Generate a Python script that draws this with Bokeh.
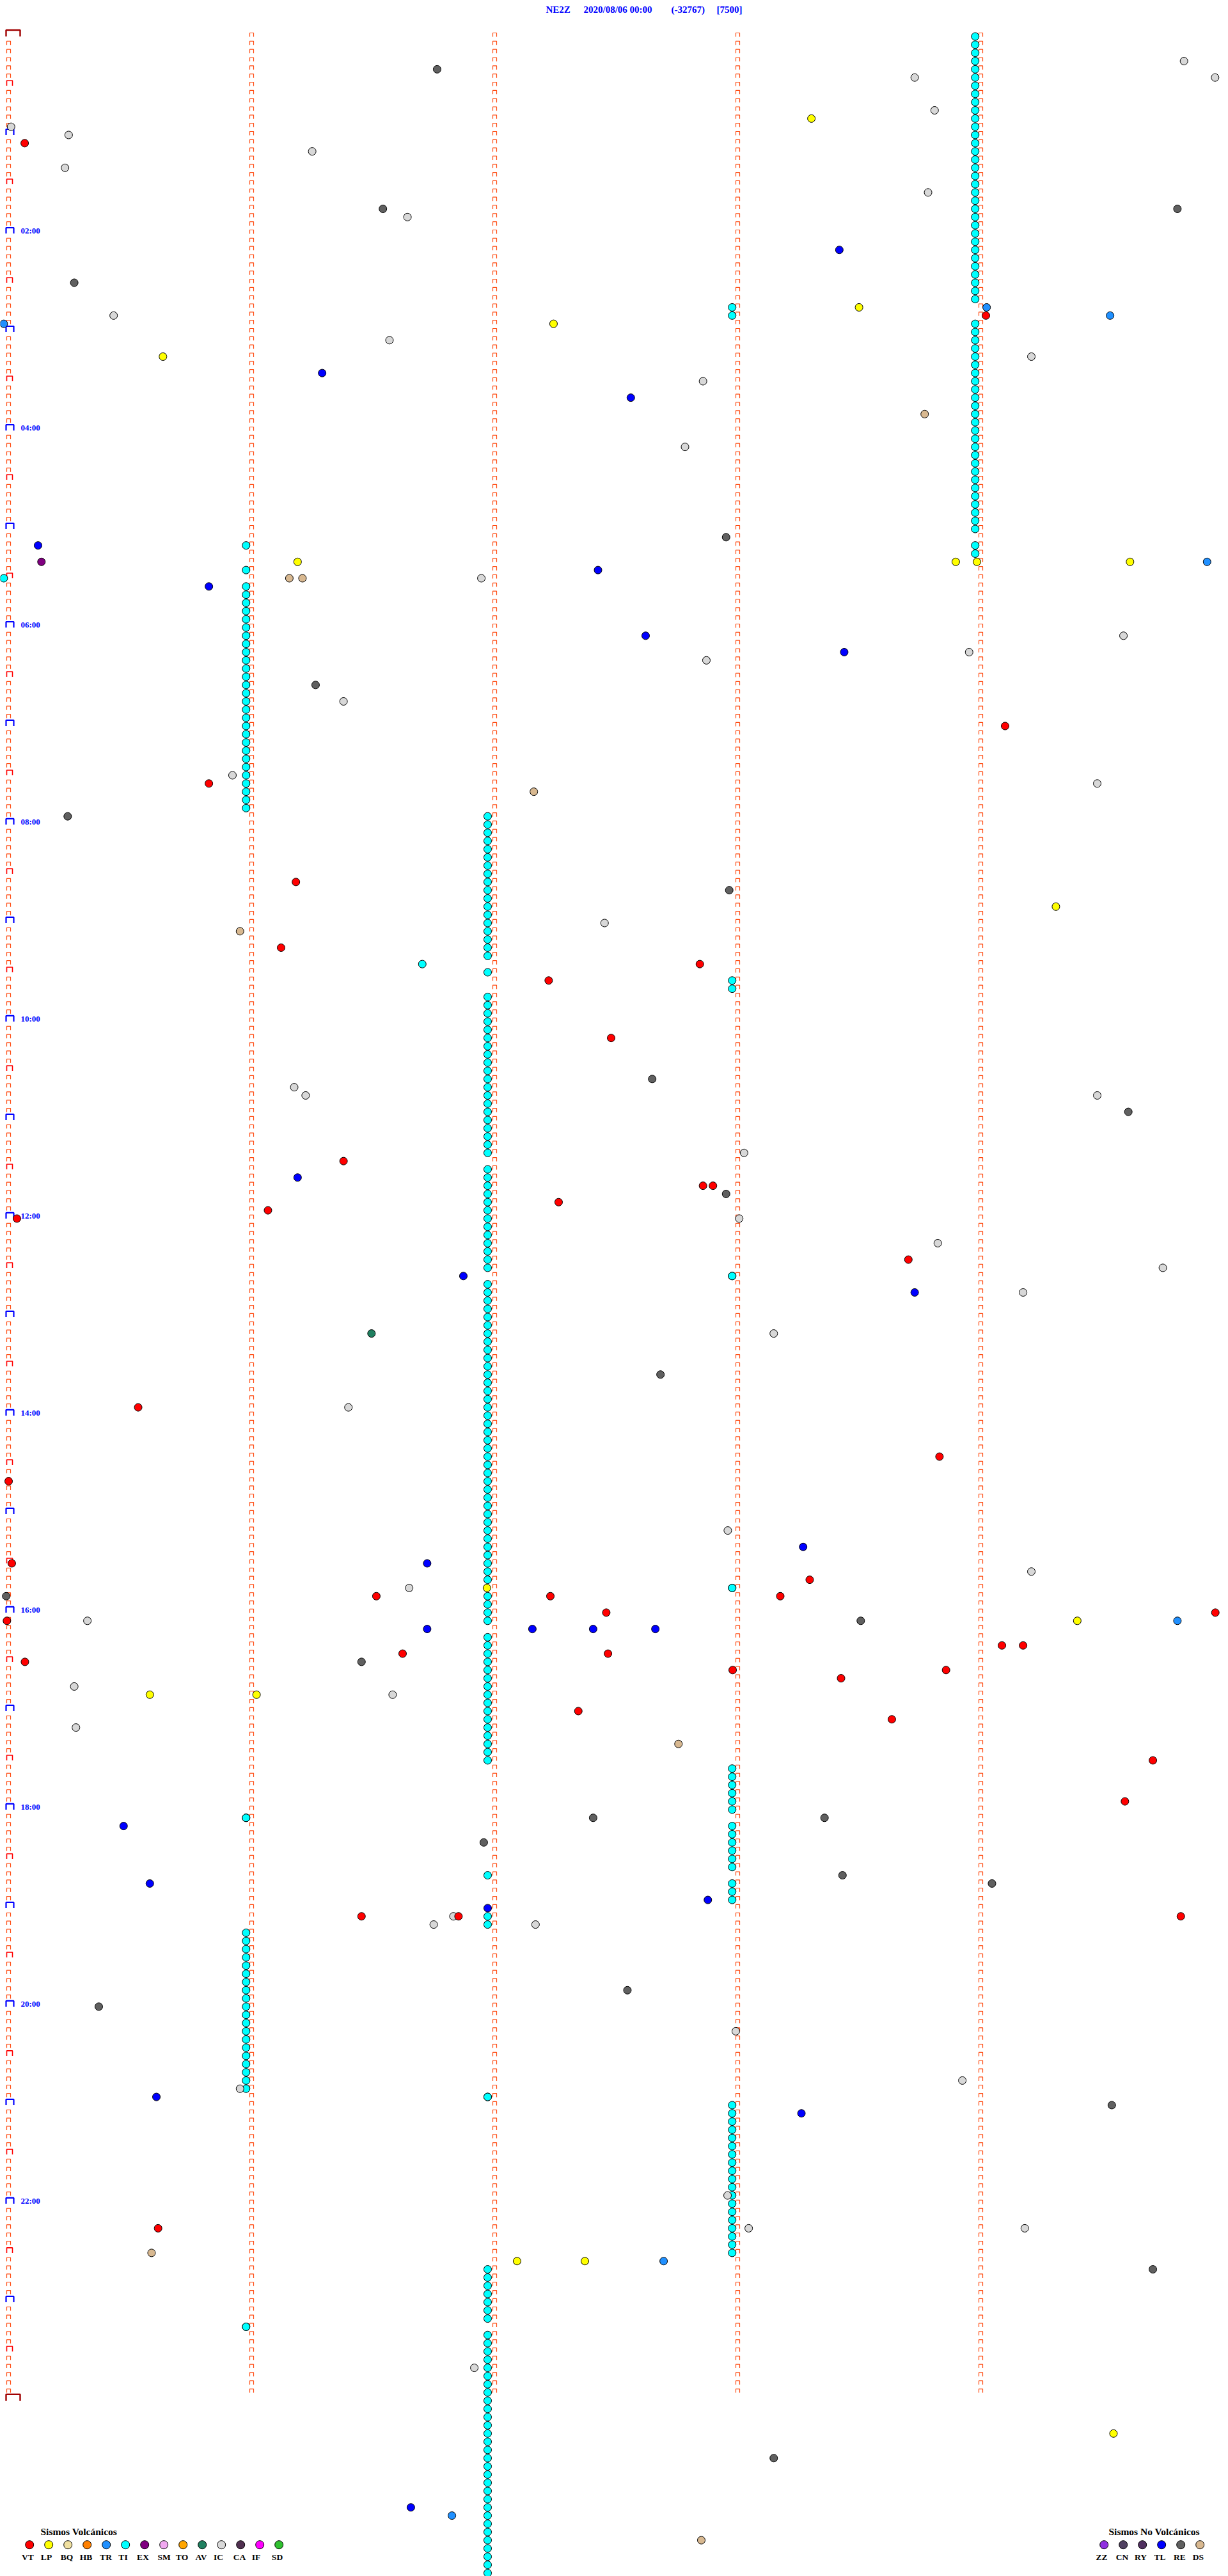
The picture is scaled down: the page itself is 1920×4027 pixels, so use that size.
import numpy as np
from bokeh.plotting import figure
from bokeh.models import Range1d, ColumnDataSource
from bokeh.core.properties import value
from bokeh.embed import file_html
from bokeh.resources import INLINE

# ---------------- data ----------------
station = "NE2Z"
start_label = "2020/08/06 00:00"
clip_label = "(-32767)"
scale_label = "[7500]"

volc_codes = ["VT", "LP", "BQ", "HB", "TR", "TI", "EX", "SM", "TO", "AV", "IC", "CA", "IF", "SD"]
volc_colors = ["#FF0000", "#FFFF00", "#F0E0A0", "#FF8000", "#2090FF", "#00FFFF", "#800080",
               "#F0A8F0", "#FFA500", "#208060", "#D8D8D8", "#503050", "#FF00FF", "#30C030"]
nonvolc_codes = ["ZZ", "CN", "RY", "TL", "RE", "DS"]
nonvolc_colors = ["#9030E0", "#504060", "#503060", "#0000FF", "#606060", "#D8B890"]

# each event: type, 5-minute line index, minutes into the line
ev_type = ["RE", "IC", "IC", "IC", "IC", "LP", "IC", "IC", "VT", "IC",
           "IC", "IC", "RE", "IC", "RE", "TL", "RE", "IC", "LP", "TR",
           "VT", "TR", "LP", "TR", "IC", "LP", "IC", "TL", "IC", "TL",
           "DS", "IC", "RE", "TL", "EX", "LP", "LP", "LP", "LP", "TR",
           "TI", "TL", "DS", "DS", "IC", "TL", "TL", "TL", "IC", "IC",
           "IC", "RE", "IC", "VT", "VT", "IC", "IC", "DS", "RE", "VT",
           "RE", "LP", "IC", "DS", "VT", "TI", "VT", "VT", "VT", "RE",
           "IC", "IC", "IC", "RE", "IC", "VT", "TL", "VT", "VT", "RE",
           "VT", "VT", "IC", "VT", "IC", "VT", "IC", "TL", "TI", "TL",
           "IC", "IC", "AV", "RE", "VT", "IC", "VT", "VT", "IC", "TL",
           "TL", "VT", "VT", "IC", "IC", "VT", "LP", "VT", "TI", "VT",
           "RE", "VT", "VT", "RE", "LP", "TR", "VT", "IC", "TL", "TL",
           "TL", "TL", "VT", "VT", "VT", "VT", "VT", "RE", "VT", "VT",
           "VT", "IC", "LP", "LP", "IC", "VT", "VT", "IC", "DS", "VT",
           "VT", "TI", "RE", "RE", "TL", "RE", "RE", "TL", "RE", "TL",
           "TL", "VT", "IC", "IC", "VT", "IC", "VT", "RE", "RE", "IC",
           "IC", "IC", "TI", "TL", "TL", "RE", "IC", "IC", "IC", "VT",
           "DS", "LP", "LP", "TR", "RE", "TI", "IC", "LP", "RE", "TL",
           "TR", "DS"]
ev_line = [4, 5, 3, 5, 9, 10, 11, 12, 13, 14,
           16, 19, 21, 22, 21, 26, 30, 34, 33, 33,
           34, 34, 35, 35, 37, 39, 39, 41, 42, 44,
           46, 50, 61, 62, 64, 64, 64, 64, 64, 64,
           66, 67, 66, 66, 66, 65, 73, 75, 73, 75,
           76, 79, 81, 84, 91, 90, 91, 92, 95, 103,
           104, 106, 108, 109, 111, 113, 113, 115, 122, 127,
           128, 129, 129, 131, 136, 137, 139, 140, 140, 141,
           142, 143, 144, 144, 147, 149, 150, 151, 151, 153,
           153, 158, 158, 163, 167, 167, 173, 176, 182, 184,
           186, 186, 188, 187, 189, 190, 189, 190, 189, 190,
           190, 192, 192, 193, 193, 193, 193, 193, 194, 194,
           194, 194, 197, 197, 196, 196, 198, 198, 199, 199,
           200, 201, 202, 202, 202, 204, 205, 206, 208, 210,
           215, 217, 217, 217, 218, 220, 224, 225, 225, 227,
           228, 229, 230, 229, 229, 230, 229, 238, 240, 243,
           249, 250, 251, 251, 253, 252, 263, 267, 267, 267,
           270, 271, 271, 271, 272, 279, 284, 292, 295, 301,
           302, 305]
ev_min = [1.763, 3.728, 4.836, 4.964, 3.810, 3.303, 0.010, 0.247, 0.066, 1.249,
          0.232, 3.783, 1.540, 1.641, 4.809, 3.418, 0.270, 0.432, 3.499, 4.024,
          4.021, 4.532, 2.242, -0.020, 1.567, 0.635, 4.208, 1.290, 2.857, 2.560,
          3.769, 2.783, 2.952, 0.121, 0.135, 1.189, 3.897, 3.984, 4.614, 4.931,
          -0.020, 0.824, 1.155, 1.209, 1.945, 2.425, 2.621, 3.438, 4.587, 3.952,
          2.871, 1.263, 1.378, 4.100, 0.824, 0.921, 4.479, 2.161, 0.243, 1.182,
          2.965, 4.309, 2.452, 0.952, 1.121, 1.702, 2.844, 2.222, 2.479, 2.648,
          1.175, 1.222, 4.479, 4.607, 3.026, 1.378, 1.189, 2.857, 2.898, 2.952,
          2.263, 1.067, 3.006, 0.034, 3.823, 3.702, 4.749, 1.871, 2.977, 3.728,
          4.174, 3.148, 1.493, 2.682, 0.533, 1.398, 3.830, 0.000, 2.959, 3.269,
          1.722, 0.013, 3.296, 4.208, 1.648, 1.513, 1.968, 2.229, 2.977, 3.175,
          -0.010, 2.459, 4.965, 3.506, 4.397, 4.809, -0.007, 0.324, 1.722, 2.155,
          2.405, 2.661, 1.621, 2.466, 4.087, 4.174, 0.067, 1.452, 2.979, 3.857,
          3.425, 0.270, 0.581, 1.020, 1.580, 2.344, 3.634, 0.277, 2.756, 4.708,
          4.593, 0.977, 2.405, 3.357, 0.473, 1.955, 3.431, 0.581, 4.046, 2.877,
          1.971, 1.452, 1.749, 1.830, 1.851, 2.168, 4.823, 2.546, 0.371, 2.992,
          3.924, 0.952, 1.971, 0.608, 3.262, 4.539, 2.958, 3.045, 4.181, 0.615,
          0.588, 2.092, 2.371, 2.695, 4.708, 0.977, 1.916, 4.546, 3.148, 1.655,
          1.824, 2.850]

# continuous TI (tremor) runs: first line, last line, minutes into the line
ti_runs = [(0, 32, 3.977), (35, 60, 3.977), (62, 63, 3.977),
           (33, 34, 2.977), (115, 116, 2.977), (151, 151, 2.977), (189, 189, 2.977),
           (211, 216, 2.977), (218, 223, 2.977), (225, 227, 2.977), (252, 270, 2.977),
           (62, 62, 0.977), (65, 65, 0.977), (67, 94, 0.977), (217, 217, 0.977),
           (231, 250, 0.977), (279, 279, 0.977),
           (95, 112, 1.971), (114, 114, 1.971), (117, 136, 1.971), (138, 150, 1.971),
           (152, 188, 1.971), (190, 193, 1.971), (195, 210, 1.971), (224, 224, 1.971),
           (229, 230, 1.971), (251, 251, 1.971), (272, 278, 1.971), (280, 309, 1.971)]

n_lines = 288          # 24 h of 5-minute lines
minute_ticks = [0, 1, 2, 3, 4]

# ---------------- geometry (page pixels of the original sheet) ----------------
PX_MIN = 380.0       # pixels per minute
X0 = 13.0            # x of minute 0
PX_LINE = 12.833     # pixels per 5-min line
Y0 = 56.5            # y of line 0


def dx(px):
    return (px - X0) / PX_MIN


def dy(py):
    return (py - Y0) / PX_LINE


def cx(m):
    return X0 + PX_MIN * m


def cy(r):
    return Y0 + PX_LINE * r


W, H = 1920, 4027
p = figure(width=W, height=H, x_range=Range1d(dx(0), dx(W)), y_range=Range1d(dy(H), dy(0)),
           output_backend="svg", toolbar_location=None, min_border=0,
           x_axis_location=None, y_axis_location=None)
p.grid.visible = False
p.outline_line_color = None
p.background_fill_color = "white"
p.border_fill_color = "white"


def bracket(xc_left, xc_right, ytop, ybot):
    return [dx(xc_left), dx(xc_left), dx(xc_right), dx(xc_right)], [dy(ybot), dy(ytop), dy(ytop), dy(ybot)]


# trace tick marks
small_xs, small_ys = [], []
red_xs, red_ys = [], []
blue_xs, blue_ys = [], []
dk_xs, dk_ys = [], []
for k in minute_ticks:
    xc = cx(k)
    for r in range(n_lines + 1):
        yc = cy(r)
        if k == 0:
            if r == 0 or r == n_lines:
                a, b = bracket(xc - 4, xc + 18, yc - 10, yc)
                dk_xs.append(a); dk_ys.append(b)
            elif r % 12 == 0:
                a, b = bracket(xc - 4, xc + 8, yc - 9, yc)
                blue_xs.append(a); blue_ys.append(b)
            elif r % 6 == 0:
                a, b = bracket(xc - 3, xc + 6, yc - 8, yc)
                red_xs.append(a); red_ys.append(b)
            else:
                a, b = bracket(xc - 3, xc + 3, yc - 5.5, yc + 0.5)
                small_xs.append(a); small_ys.append(b)
        else:
            if r >= n_lines:
                continue
            a, b = bracket(xc - 3, xc + 3, yc - 5.5, yc + 0.5)
            small_xs.append(a); small_ys.append(b)

p.multi_line(small_xs, small_ys, line_color="#FF4A10", line_width=1.2)
p.multi_line(red_xs, red_ys, line_color="#FF0000", line_width=1.6)
p.multi_line(blue_xs, blue_ys, line_color="#0000FF", line_width=2.2)
p.multi_line(dk_xs, dk_ys, line_color="#A00000", line_width=2.4)

# hour labels
hl_x, hl_y, hl_t = [], [], []
for h in range(2, 24, 2):
    hl_x.append(dx(32)); hl_y.append(dy(cy(h * 12) - 4.5)); hl_t.append("%02d:00" % h)
p.text(hl_x, hl_y, text=hl_t, text_font=value("Liberation Serif"), text_font_style="bold",
       text_font_size="13px", text_color="#0000FF", text_baseline="middle", text_align="left")

# title
tt_x = [dx(853), dx(912), dx(1049), dx(1120)]
tt_t = [station, start_label, clip_label, scale_label]
p.text(tt_x, [dy(14.5)] * 4, text=tt_t, text_font=value("Liberation Serif"), text_font_style="bold",
       text_font_size="15px", text_color="#0000FF", text_baseline="middle", text_align="left")

# events
color_map = dict(zip(volc_codes, volc_colors))
color_map.update(dict(zip(nonvolc_codes, nonvolc_colors)))

ti_x, ti_y = [], []
for first, last, m in ti_runs:
    for r in range(first, last + 1):
        ti_x.append(m); ti_y.append(r)
p.scatter(ti_x, ti_y, size=12, marker="circle", fill_color=color_map["TI"], line_color="black", line_width=1)

src = ColumnDataSource(dict(x=ev_min, y=ev_line, c=[color_map[t] for t in ev_type]))
p.scatter("x", "y", source=src, size=12, marker="circle", fill_color="c", line_color="black", line_width=1)

# legends
leg_y = dy(3977.7)
lab_y = dy(3997)
vx = [45.7 + 30 * i for i in range(len(volc_codes))]
p.scatter([dx(v) for v in vx], [leg_y] * len(vx), size=13, marker="circle", fill_color=volc_colors,
          line_color="black", line_width=1)
vlab = [43, 72, 104, 134, 165, 192, 223, 256, 284, 314, 341, 374, 400, 433]
p.text([dx(v) for v in vlab], [lab_y] * len(vlab), text=volc_codes, text_font=value("Liberation Serif"),
       text_font_style="bold", text_font_size="13.5px", text_color="black", text_baseline="middle",
       text_align="center")
p.text([dx(63)], [dy(3957)], text=["Sismos Volcánicos"], text_font=value("Liberation Serif"),
       text_font_style="bold", text_font_size="15.5px", text_color="black", text_baseline="middle",
       text_align="left")

nx = [1725.7 + 30 * i for i in range(len(nonvolc_codes))]
p.scatter([dx(v) for v in nx], [leg_y] * len(nx), size=13, marker="circle", fill_color=nonvolc_colors,
          line_color="black", line_width=1)
nlab = [1722, 1754, 1783, 1813, 1844, 1873]
p.text([dx(v) for v in nlab], [lab_y] * len(nlab), text=nonvolc_codes, text_font=value("Liberation Serif"),
       text_font_style="bold", text_font_size="13.5px", text_color="black", text_baseline="middle",
       text_align="center")
p.text([dx(1733)], [dy(3957)], text=["Sismos No Volcánicos"], text_font=value("Liberation Serif"),
       text_font_style="bold", text_font_size="15.5px", text_color="black", text_baseline="middle",
       text_align="left")

open("out.html", "w").write(file_html(p, INLINE))
